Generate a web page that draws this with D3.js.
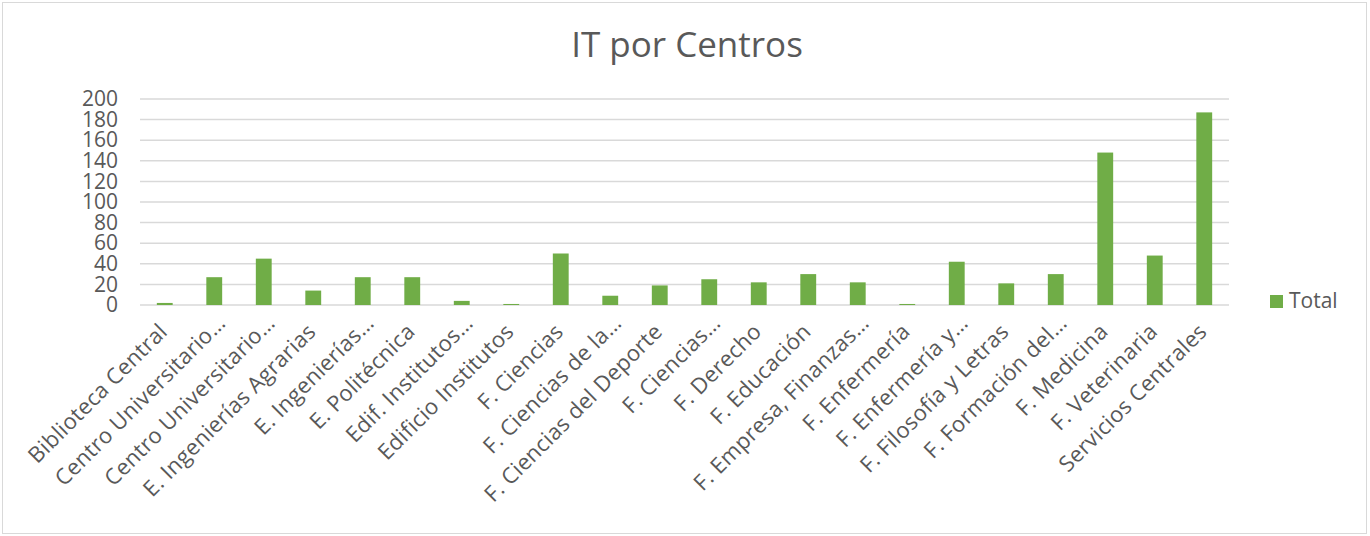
<!DOCTYPE html>
<head>
  <meta charset="utf-8">
  <title>IT por Centros</title>
  <style>
    body { margin: 0; background: #fff; }
    text { font-family: "Open Sans", sans-serif; fill: #595959; }
  </style>
</head>
<body>
  <svg id="chart" width="1370" height="536"></svg>

  <script src="https://d3js.org/d3.v7.min.js"></script>
  <script>
    // data
    var centros = [
      "Biblioteca Central", "Centro Universitario…", "Centro Universitario…",
      "E. Ingenierías Agrarias", "E. Ingenierías…", "E. Politécnica",
      "Edif. Institutos…", "Edificio Institutos", "F. Ciencias",
      "F. Ciencias de la…", "F. Ciencias del Deporte", "F. Ciencias…",
      "F. Derecho", "F. Educación", "F. Empresa, Finanzas…", "F. Enfermería",
      "F. Enfermería y…", "F. Filosofía y Letras", "F. Formación del…",
      "F. Medicina", "F. Veterinaria", "Servicios Centrales"
    ];
    var total = [2, 27, 45, 14, 27, 27, 4, 1, 50, 9, 19, 25, 22, 30, 22, 1, 42, 21, 30, 148, 48, 187];
    var yTicks = [0, 20, 40, 60, 80, 100, 120, 140, 160, 180, 200];

    var svg = d3.select("svg"),
        margin = {top: 99, left: 140, right: 141, bottom: 231},
        width = 1370 - margin.left - margin.right,
        height = 536 - margin.top - margin.bottom;

    //chart frame
    svg.append("rect")
      .attr("x", 2.5).attr("y", 2.5)
      .attr("width", 1364).attr("height", 531)
      .attr("fill", "#fff")
      .attr("stroke", "#d9d9d9");

    var graph = svg.append("g").attr("transform", "translate(" + margin.left + "," + margin.top + ")");

    var x = d3.scaleBand()
      .domain(d3.range(centros.length))
      .range([0, width])
      .paddingInner(0.68)
      .paddingOuter(0.34);

    var y = d3.scaleLinear()
      .domain([0, 200])
      .range([height, 0]);

    //gridlines
    graph.append("g")
      .selectAll("line")
      .data(yTicks)
      .enter().append("line")
      .attr("x1", 0).attr("x2", width)
      .attr("y1", function(d) { return y(d); })
      .attr("y2", function(d) { return y(d); })
      .attr("stroke", "#d9d9d9")
      .attr("stroke-width", 1.5);

    //y axis
    var yAxis = graph.append("g")
      .attr("transform", "translate(-22,0)")
      .call(d3.axisLeft(y).tickValues(yTicks).tickSize(0).tickPadding(0));
    yAxis.select(".domain").remove();
    yAxis.selectAll("text")
      .style("font-family", "'Open Sans', sans-serif")
      .style("font-size", "21px")
      .attr("fill", "#595959");

    //bars
    graph.append("g")
      .selectAll("rect")
      .data(total)
      .enter().append("rect")
      .attr("x", function(d, i) { return x(i); })
      .attr("y", function(d) { return y(d); })
      .attr("width", x.bandwidth())
      .attr("height", function(d) { return height - y(d); })
      .attr("fill", "#70ad47");

    //rotated category labels (truncated ones sit a little further out, like Excel)
    graph.append("g")
      .selectAll("text")
      .data(centros)
      .enter().append("text")
      .attr("transform", function(d, i) {
        return "translate(" + (x(i) + x.bandwidth() / 2 + 4) + "," + (height + 28) + ") rotate(-45)";
      })
      .attr("text-anchor", "end")
      .attr("dx", function(d) { return d.slice(-1) == "…" ? 12 : 0; })
      .style("font-size", "22px")
      .style("letter-spacing", "0.3px")
      .text(function(d) { return d; });

    //title
    svg.append("text")
      .attr("x", 687)
      .attr("y", 57)
      .attr("text-anchor", "middle")
      .style("font-size", "35px")
      .text("IT por Centros");

    //legend
    var legend = svg.append("g").attr("transform", "translate(1270,295)");
    legend.append("rect")
      .attr("width", 13).attr("height", 13)
      .attr("fill", "#70ad47");
    legend.append("text")
      .attr("x", 19).attr("y", 12.5)
      .style("font-size", "21px")
      .text("Total");
  </script>
</body>
